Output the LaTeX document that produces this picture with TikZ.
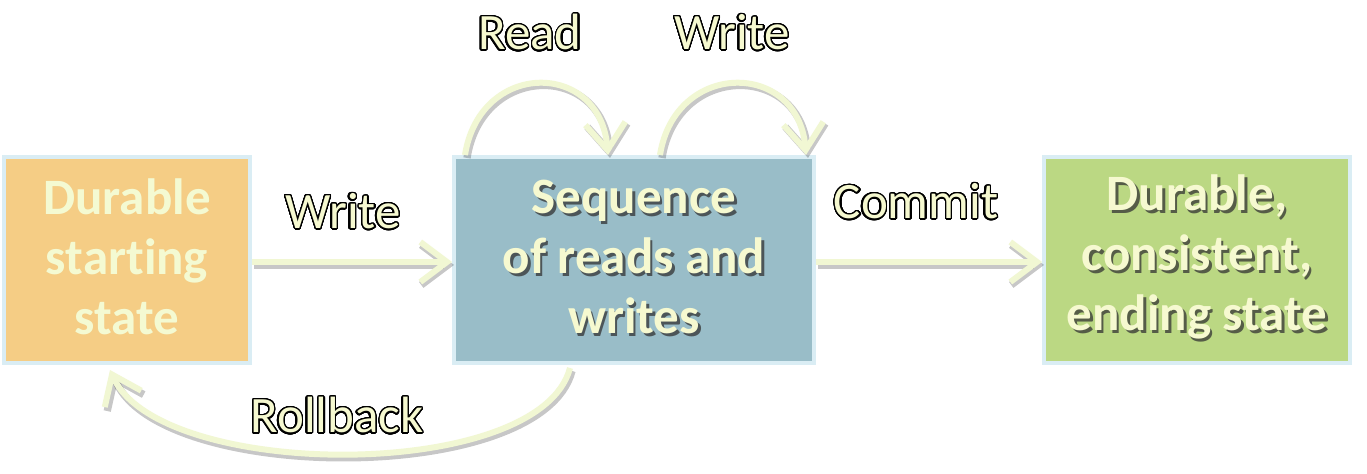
\documentclass[tikz,border=0pt]{standalone}
\usepackage{fontspec}
\setmainfont{Carlito}[Ligatures={NoCommon,NoRare,NoContextual}]
\usepackage[copies]{contour}
\usetikzlibrary{arrows.meta,calc}
\definecolor{leftfill}{HTML}{F5CD85}
\definecolor{midfill}{HTML}{99BDC8}
\definecolor{rightfill}{HTML}{BBD883}
\definecolor{bordc}{HTML}{DAEDF4}
\definecolor{txtc}{HTML}{F4FAD2}
\definecolor{lblc}{HTML}{F6F9D0}
\definecolor{arrc}{HTML}{F1F7D3}
\contourlength{1pt}
\contournumber{40}
\begin{document}
\begin{tikzpicture}[x=0.75pt,y=-0.75pt,
  box/.style={draw=bordc, line width=3pt, minimum height=154.5pt, inner sep=0pt},
  boxtext/.style={font=\fontsize{38.25pt}{45pt}\selectfont\bfseries, align=center, inner sep=0pt, text=txtc},
  shad/.style={boxtext, text=black!80, opacity=0.75},
  lbl/.style={font=\fontsize{38.25pt}{45pt}\selectfont, text=lblc, inner sep=0pt},
  tipc/.style={-{Straight Barb[length=20pt,width=30pt]}},
  conn/.style={draw=arrc, line width=4.5pt, tipc},
  connsh/.style={draw=black, opacity=0.22, line width=5.5pt, tipc, transform canvas={shift={(1.5pt,-2.2pt)}}}
]
\useasboundingbox (0,0) rectangle (1367,474);
\fill[white] (0,0) rectangle (1367,474);

% boxes
\node[box, fill=leftfill, minimum width=184.5pt] (left) at (127,260) {};
\node[box, fill=midfill, minimum width=270pt] (mid) at (634,260) {};
\node[box, fill=rightfill, minimum width=229.5pt] (right) at (1197,260) {};

% box texts
\node[boxtext] (lefttxt) at ($(left.center)+(0,-3)$) {Durable\\star\kern0pt t\kern0pt ing\\state};
\node[shad] at ($(mid.center)+(2.5,-0.5)$) {Sequence\\of reads and\\writes};
\node[boxtext, text=lblc] (midtxt) at ($(mid.center)+(0,-3)$) {Sequence\\of reads and\\writes};
\node[shad] at ($(right.center)+(2.5,-0.5)$) {Durable,\\consis\kern0pt t\kern0pt ent,\\ending state};
\node[boxtext, text=lblc] (righttxt) at ($(right.center)+(0,-3)$) {Durable,\\consis\kern0pt t\kern0pt ent,\\ending state};

% connector end points
\coordinate (r1) at ($(mid.north west)+(13,0)$);
\coordinate (r2) at ($(mid.north west)+(156,0)$);
\coordinate (w1) at ($(mid.north west)+(208,0)$);
\coordinate (w2) at ($(mid.north west)+(354,0)$);
\coordinate (rb1) at ($(mid.south west)+(118,3)$);
\coordinate (rb2) at ($(left.south west)+(108,5)$);
\coordinate (a1) at ($(left.east)+(0,2)$);
\coordinate (a2) at ($(mid.west)+(0,2)$);
\coordinate (c1) at ($(mid.east)+(0,2)$);
\coordinate (c2) at ($(right.west)+(0,2)$);

% shadows
\draw[connsh] (a1) -- (a2);
\draw[connsh] (c1) -- (c2);
\draw[connsh] (r1) .. controls +(15,-95) and +(-8,-95) .. (r2);
\draw[connsh] (w1) .. controls +(15,-95) and +(-8,-95) .. (w2);
\draw[connsh] (rb1) .. controls +(-30,115) and +(50,111) .. (rb2);

% connectors
\draw[conn] (a1) -- (a2);
\draw[conn] (c1) -- (c2);
\draw[conn] (r1) .. controls +(15,-95) and +(-8,-95) .. (r2);
\draw[conn] (w1) .. controls +(15,-95) and +(-8,-95) .. (w2);
\draw[conn] (rb1) .. controls +(-30,115) and +(50,111) .. (rb2);

% labels
\node[lbl] (lwrite) at (343,212) {\contour{black}{Write}};
\node[lbl] (lcommit) at (916,202) {\contour{black}{Commit}};
\node[lbl] (lread) at (530,33) {\contour{black}{Read}};
\node[lbl] (lwrite2) at (732,33) {\contour{black}{Write}};
\node[lbl] (lroll) at (337,416) {\contour{black}{Rollback}};
\end{tikzpicture}
\end{document}
